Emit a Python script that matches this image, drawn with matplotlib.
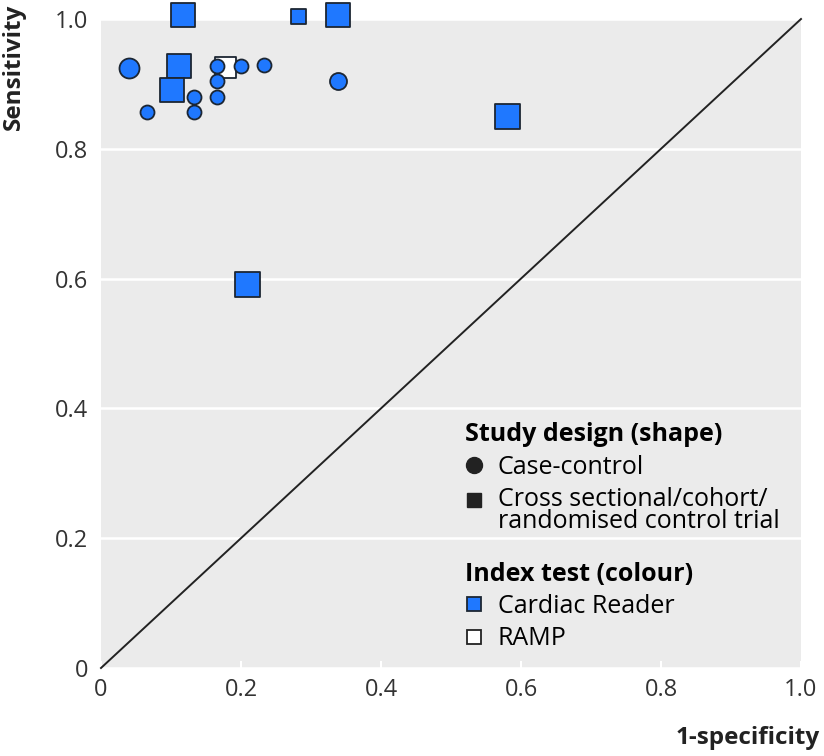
import numpy as np
import matplotlib
matplotlib.use("Agg")
import matplotlib.pyplot as plt
from matplotlib.lines import Line2D
from matplotlib.legend_handler import HandlerLine2D

################ DATA ########################
fpr = [0.117, 0.281, 0.339, 0.580, 0.209, 0.111, 0.101, 0.177,
       0.040, 0.166, 0.200, 0.233, 0.166, 0.339, 0.133, 0.166, 0.066, 0.133]
sens = [1.006, 1.004, 1.006, 0.851, 0.592, 0.928, 0.891, 0.926,
        0.924, 0.928, 0.928, 0.929, 0.905, 0.905, 0.880, 0.880, 0.857, 0.857]
design = ['cross', 'cross', 'cross', 'cross', 'cross', 'cross', 'cross', 'cross',
          'case', 'case', 'case', 'case', 'case', 'case', 'case', 'case', 'case', 'case']
test = ['Cardiac Reader'] * 7 + ['RAMP'] + ['Cardiac Reader'] * 10
marker_px = [23, 15, 23, 25, 25, 23, 23, 21,
             20, 14, 14, 14, 14, 17, 14, 14, 14, 14]
ticks = [0, 0.2, 0.4, 0.6, 0.8, 1.0]
tick_labels = ['0', '0.2', '0.4', '0.6', '0.8', '1.0']
##############################################

plt.rcParams['font.family'] = ['Open Sans', 'DejaVu Sans']

blue = '#1f78ff'
edge = '#1c2633'
shapes = {'case': 'o', 'cross': 's'}
fills = {'Cardiac Reader': blue, 'RAMP': 'white'}


# legend key aligned with the first line of a two-line label
class FirstLineHandler(HandlerLine2D):
    def create_artists(self, legend, orig_handle, xdescent, ydescent,
                       width, height, fontsize, trans):
        return super().create_artists(legend, orig_handle, xdescent, ydescent - 16.5,
                                      width, height, fontsize, trans)


fig = plt.figure(figsize=(8.24, 7.56), dpi=100)
ax = fig.add_axes([101/824, 1-668/756, 700/824, 649/756])
ax.set_facecolor('#ebebeb')
for s in ax.spines.values():
    s.set_visible(False)

ax.set_xlim(0, 1)
ax.set_ylim(0, 1)
ax.set_xticks(ticks)
ax.set_xticklabels(tick_labels)
ax.set_yticks(ticks)
ax.set_yticklabels(tick_labels)
ax.tick_params(axis='x', direction='in', length=5, width=1.5, color='white',
               labelsize=17, pad=7, labelcolor='#333333')
ax.tick_params(axis='y', length=0, labelsize=17, pad=9, labelcolor='#333333')
ax.yaxis.grid(True, color='white', lw=1.8)
ax.set_axisbelow(True)

# reference diagonal
ax.plot([0, 1], [0, 1], color='#222222', lw=1.4, zorder=2, clip_on=False)

# studies: squares first, circles on top
for d in ['cross', 'case']:
    for i in range(len(fpr)):
        if design[i] != d:
            continue
        ms = marker_px[i] / 100 * 72
        ax.scatter(fpr[i], sens[i], s=ms**2, marker=shapes[d], c=fills[test[i]],
                   edgecolors=edge, linewidths=1.3, zorder=3, clip_on=False)

fig.text(14/824, 1-4/756, 'Sensitivity', rotation=90, ha='center', va='top',
         fontsize=17.5, fontweight='bold', color='#222222')
fig.text(820/824, 1-738/756, '1-specificity', ha='right', va='center',
         fontsize=17.5, fontweight='bold', color='#222222')

# legends
h1 = [Line2D([], [], ls='', marker='o', ms=11.5, color='#222222'),
      Line2D([], [], ls='', marker='s', ms=10, color='#222222')]
leg1 = ax.legend(h1, ['Case-control', 'Cross sectional/cohort/\nrandomised control trial'],
                 title='Study design (shape)', loc='upper left',
                 bbox_to_anchor=(0.52, 0.379), frameon=False, fontsize=18,
                 title_fontproperties={'weight': 'bold', 'size': 18},
                 alignment='left', handlelength=0.7, handletextpad=0.6,
                 labelspacing=0.29, borderaxespad=0, borderpad=0,
                 handler_map={h1[1]: FirstLineHandler()})
leg1._legend_box.sep = 5.5
for t in leg1.get_texts():
    t.set_linespacing(0.85)
ax.add_artist(leg1)

h2 = [Line2D([], [], ls='', marker='s', ms=10.5, mfc=blue, mec=edge, mew=1.3),
      Line2D([], [], ls='', marker='s', ms=10.5, mfc='white', mec='#222222', mew=1.3)]
leg2 = ax.legend(h2, ['Cardiac Reader', 'RAMP'], title='Index test (colour)',
                 loc='upper left', bbox_to_anchor=(0.52, 0.164), frameon=False, fontsize=18,
                 title_fontproperties={'weight': 'bold', 'size': 18},
                 alignment='left', handlelength=0.7, handletextpad=0.6,
                 labelspacing=0.29, borderaxespad=0, borderpad=0)
leg2._legend_box.sep = 5.5

fig.savefig('out.png', dpi=100)
